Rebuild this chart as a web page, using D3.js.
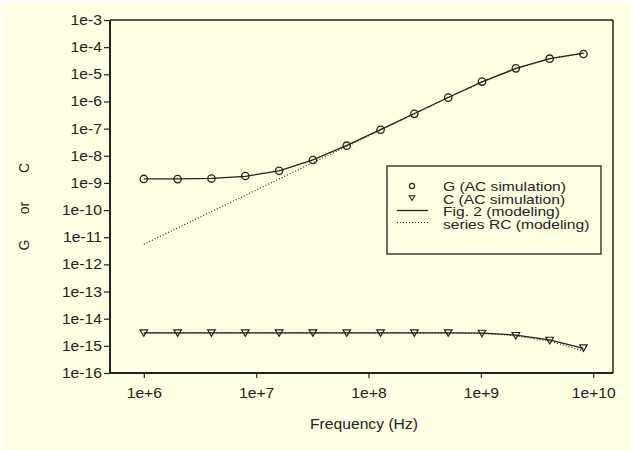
<!DOCTYPE html>
<html>
<head>
<meta charset="utf-8">
<script src="https://cdn.jsdelivr.net/npm/d3@7"></script>
<style>
  html, body { margin: 0; padding: 0; background: #fff; }
  svg { display: block; }
</style>
</head>
<body>
<div id="chart"></div>
<script>
// Values
const freq = [1e6, 2e6, 4e6, 8e6, 1.6e7, 3.2e7, 6.4e7, 1.28e8, 2.56e8, 5.12e8, 1.024e9, 2.048e9, 4.096e9, 8.192e9];
const gSim  = [1.4e-9, 1.38e-9, 1.45e-9, 1.8e-9, 2.8e-9, 7.0e-9, 2.35e-8, 9.1e-8, 3.5e-7, 1.38e-6, 5.4e-6, 1.66e-5, 3.76e-5, 5.6e-5];
const cSim  = [3.0e-15, 3.0e-15, 3.0e-15, 3.0e-15, 3.0e-15, 3.0e-15, 3.0e-15, 3.0e-15, 3.0e-15, 3.0e-15, 2.9e-15, 2.4e-15, 1.6e-15, 8.4e-16];
const gFig2 = [1.4e-9, 1.4e-9, 1.46e-9, 1.75e-9, 2.8e-9, 7.1e-9, 2.4e-8, 9.2e-8, 3.6e-7, 1.4e-6, 5.3e-6, 1.65e-5, 3.8e-5, 6.0e-5];
const cFig2 = [3.0e-15, 3.0e-15, 3.0e-15, 3.0e-15, 3.0e-15, 3.0e-15, 3.0e-15, 3.0e-15, 3.0e-15, 3.0e-15, 2.95e-15, 2.5e-15, 1.65e-15, 8.0e-16];
const gRC   = [5.5e-12, 2.2e-11, 8.8e-11, 3.5e-10, 1.4e-9, 5.6e-9, 2.2e-8, 8.9e-8, 3.5e-7, 1.4e-6, 5.2e-6, 1.6e-5, 3.7e-5, 6.0e-5];
const cRC   = [3.0e-15, 3.0e-15, 3.0e-15, 3.0e-15, 3.0e-15, 3.0e-15, 3.0e-15, 3.0e-15, 3.0e-15, 3.0e-15, 2.9e-15, 2.35e-15, 1.5e-15, 6.5e-16];
const xTicks = [1e6, 1e7, 1e8, 1e9, 1e10];
const yTicks = [1e-3, 1e-4, 1e-5, 1e-6, 1e-7, 1e-8, 1e-9, 1e-10, 1e-11, 1e-12, 1e-13, 1e-14, 1e-15, 1e-16];
const legendLabels = ["G (AC simulation)", "C (AC simulation)", "Fig. 2 (modeling)", "series RC (modeling)"];

const width = 631, height = 450;
const margin = {top: 20, right: 18, bottom: 77, left: 110};
const ink = "#222";
const bg = "#ffffe3";
const font = "'Liberation Sans', Arial, sans-serif";
const sx = 1.12; // the original text is a little wide

const svg = d3.select("#chart").append("svg")
    .attr("width", width)
    .attr("height", height)
    .style("font-family", font);

svg.append("rect").attr("width", width).attr("height", height).attr("fill", "#fff");
svg.append("rect").attr("x", 2).attr("y", 3).attr("width", width - 2).attr("height", height - 3).attr("fill", bg);

const x = d3.scaleLog().domain([5e5, 1.5e10]).range([margin.left, width - margin.right]);
const y = d3.scaleLog().domain([1e-16, 1e-3]).range([height - margin.bottom, margin.top]);

// stretch text horizontally around its own anchor
function stretch(sel, k = sx) {
  sel.each(function() {
    const t = d3.select(this);
    const tx = +t.attr("x") || 0;
    t.attr("x", tx / k).attr("transform", `scale(${k},1)`);
  });
}

// frame (top + right)
svg.append("line")
    .attr("x1", x.range()[0]).attr("x2", x.range()[1])
    .attr("y1", margin.top).attr("y2", margin.top)
    .attr("stroke", ink).attr("stroke-width", 1.5);
svg.append("line")
    .attr("x1", x.range()[1]).attr("x2", x.range()[1])
    .attr("y1", margin.top).attr("y2", y.range()[0])
    .attr("stroke", ink).attr("stroke-width", 1.5);

// axes
const xAxis = svg.append("g")
    .attr("transform", `translate(0,${y.range()[0]})`)
    .call(d3.axisBottom(x).tickValues(xTicks).tickSize(5).tickPadding(10)
      .tickFormat(d => "1e+" + Math.round(Math.log10(d))).tickSizeOuter(0));
const yAxis = svg.append("g")
    .attr("transform", `translate(${margin.left},0)`)
    .call(d3.axisLeft(y).tickValues(yTicks).tickSize(6).tickPadding(2)
      .tickFormat(d => "1e" + Math.round(Math.log10(d))).tickSizeOuter(0));

[xAxis, yAxis].forEach(a => {
  a.select(".domain").attr("stroke", ink).attr("stroke-width", 2);
  a.selectAll(".tick line").attr("stroke", ink).attr("stroke-width", 1.2);
  a.selectAll(".tick text").attr("fill", ink).style("font-size", "14px").style("font-family", font);
  stretch(a.selectAll(".tick text"));
});
xAxis.select(".domain").attr("d", `M${x.range()[0]},0H${x.range()[1]}`);
yAxis.select(".domain").attr("d", `M0,${y.range()[0] + 1}V${margin.top}`);

// axis titles
svg.append("text")
    .attr("x", 364 / sx).attr("y", 429)
    .attr("transform", `scale(${sx},1)`)
    .attr("text-anchor", "middle")
    .attr("fill", ink).style("font-size", "14px")
    .text("Frequency (Hz)");

[["C", 168], ["or", 208], ["G", 245]].forEach(([t, cy]) => {
  svg.append("text")
      .attr("transform", `translate(24,${cy}) rotate(-90)`)
      .attr("text-anchor", "middle")
      .attr("dominant-baseline", "central")
      .attr("fill", ink).style("font-size", "14px")
      .text(t);
});

// curves
const line = d3.line().x(d => x(d[0])).y(d => y(d[1]));
const pairs = vals => freq.map((f, i) => [f, vals[i]]);

[[gRC, "1,2"], [cRC, "1,2"], [gFig2, null], [cFig2, null]].forEach(([vals, dash]) => {
  svg.append("path")
      .attr("d", line(pairs(vals)))
      .attr("fill", "none")
      .attr("stroke", ink)
      .attr("stroke-width", dash ? 1.2 : 1.3)
      .attr("stroke-dasharray", dash);
});

// markers
svg.append("g").selectAll("circle")
  .data(pairs(gSim))
  .join("circle")
    .attr("cx", d => x(d[0])).attr("cy", d => y(d[1]))
    .attr("r", 3.7)
    .attr("fill", "none").attr("stroke", ink).attr("stroke-width", 1.3);

const tri = (cx, cy, s) => `M${cx - s},${cy - s * 0.8}L${cx + s},${cy - s * 0.8}L${cx},${cy + s * 0.9}Z`;
svg.append("g").selectAll("path")
  .data(pairs(cSim))
  .join("path")
    .attr("d", d => tri(x(d[0]), y(d[1]), 3.8))
    .attr("fill", "none").attr("stroke", ink).attr("stroke-width", 1.2);

// legend
const lg = svg.append("g");
lg.append("rect")
    .attr("x", 387).attr("y", 166).attr("width", 214).attr("height", 88)
    .attr("fill", "none").attr("stroke", ink).attr("stroke-width", 1.3);

const lsx = 1.2;
const rowBase = [191.5, 203.9, 216.3, 228.7];
legendLabels.forEach((t, i) => {
  lg.append("text")
      .attr("x", 443 / lsx).attr("y", rowBase[i])
      .attr("transform", `scale(${lsx},1)`)
      .attr("fill", ink).style("font-size", "13px")
      .text(t);
});
lg.append("circle").attr("cx", 412).attr("cy", 186).attr("r", 2.6)
    .attr("fill", "none").attr("stroke", ink).attr("stroke-width", 1.2);
lg.append("path").attr("d", tri(412, 198, 2.8))
    .attr("fill", "none").attr("stroke", ink).attr("stroke-width", 1.1);
lg.append("line").attr("x1", 397).attr("x2", 428).attr("y1", 210.5).attr("y2", 210.5)
    .attr("stroke", ink).attr("stroke-width", 1.3);
lg.append("line").attr("x1", 397).attr("x2", 428).attr("y1", 222.5).attr("y2", 222.5)
    .attr("stroke", ink).attr("stroke-width", 1).attr("stroke-dasharray", "1,2");
</script>
</body>
</html>
